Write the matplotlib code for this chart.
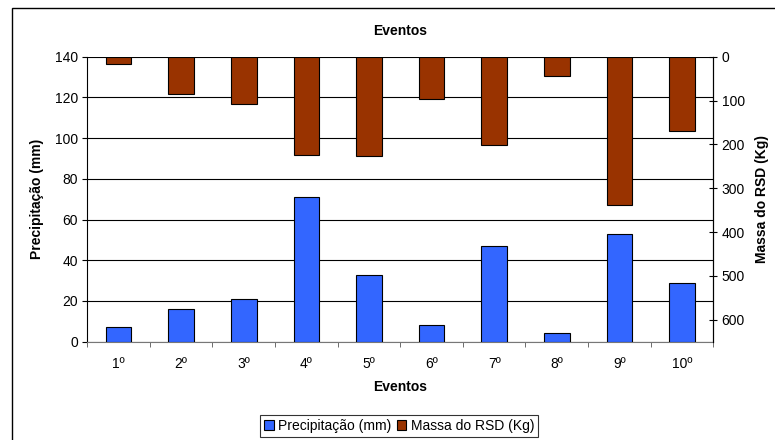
import numpy as np
import matplotlib
matplotlib.use("Agg")
import matplotlib.pyplot as plt
from matplotlib.patches import Rectangle

plt.rcParams['font.family'] = ['Liberation Sans', 'DejaVu Sans']

# data
eventos = ['1º', '2º', '3º', '4º', '5º', '6º', '7º', '8º', '9º', '10º']
precipitacao = [7, 16, 21, 71, 33, 8, 47, 4.5, 53, 29]
massa_rsd = [16, 84, 108, 225, 227, 96, 202, 45, 339, 169]

azul = '#3366FF'
marrom = '#993300'
fs = 10

fig = plt.figure(figsize=(7.75, 4.4), dpi=100)
ax = fig.add_axes([0.1126, 0.2234, 0.8078, 0.6477])
ax2 = ax.twinx()

x = np.arange(len(eventos))
w = 0.41

b1 = ax.bar(x, precipitacao, width=w, color=azul, edgecolor='black', linewidth=0.8, zorder=3)
b2 = ax2.bar(x, massa_rsd, width=w, color=marrom, edgecolor='black', linewidth=0.8, zorder=3)

# left axis
ax.set_ylim(0, 140)
ax.set_yticks(range(0, 141, 20))
ax.set_xlim(-0.5, len(eventos) - 0.5)
ax.set_xticks(x)
ax.set_xticklabels(eventos)
ax.set_xticks(np.arange(-0.5, len(eventos)), minor=True)
ax.tick_params(axis='x', which='major', length=0, labelsize=fs, pad=11)
ax.tick_params(axis='x', which='minor', length=3.5, color='#555555')
ax.tick_params(axis='y', length=3.5, labelsize=fs, pad=3)
ax.yaxis.grid(True, color='black', linewidth=0.8)
ax.set_axisbelow(True)
ax.spines['top'].set_visible(False)
ax.spines['bottom'].set_color('#777777')
ax.spines['left'].set_color('black')

# right axis, inverted
ax2.set_ylim(650, 0)
ax2.set_yticks(range(0, 601, 100))
ax2.tick_params(axis='y', direction='inout', length=6, labelsize=fs, pad=3)
ax2.spines['top'].set_visible(False)
ax2.spines['left'].set_visible(False)
ax2.spines['bottom'].set_visible(False)
ax2.spines['right'].set_color('black')

ax.set_ylabel('Precipitação (mm)', fontsize=fs, fontweight='bold', va='center')
ax.yaxis.set_label_coords(-0.0804, 0.5)
ax2.set_ylabel('Massa do RSD (Kg)', fontsize=fs, fontweight='bold', va='center')
ax2.yaxis.set_label_coords(1.078, 0.5)
ax.set_xlabel('Eventos', fontsize=fs, fontweight='bold', va='center')
ax.xaxis.set_label_coords(0.5, -0.159)
ax.set_title('Eventos', fontsize=fs, fontweight='bold', y=1.09, va='center', pad=0)

leg = fig.legend([b1, b2], ['Precipitação (mm)', 'Massa do RSD (Kg)'],
                 loc='center', bbox_to_anchor=(399 / 775, 1 - 426 / 440),
                 ncol=2, fontsize=fs, frameon=True, fancybox=False,
                 handlelength=0.7, handleheight=0.7, handletextpad=0.3,
                 columnspacing=0.4, borderpad=0.3, borderaxespad=0)
leg.get_frame().set_edgecolor('black')
leg.get_frame().set_linewidth(0.8)

# outer chart frame (right and bottom edges fall outside the image)
fig.patches.append(Rectangle((12 / 775, -0.1), 1.2, 1 - 8 / 440 + 0.1,
                             transform=fig.transFigure, fill=False,
                             edgecolor='black', linewidth=1.0))

fig.savefig('out.png', dpi=100)
